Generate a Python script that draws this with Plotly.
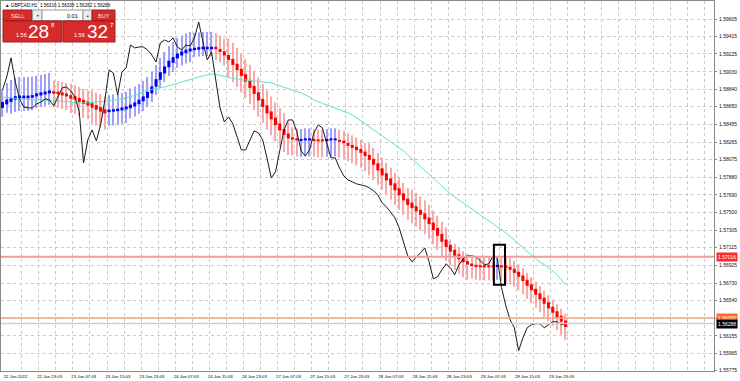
import plotly.graph_objects as go

# ---------------- data (GBPCAD H1) ----------------
x_tick_labels = ["22 Jun 2022", "22 Jun 23:03", "23 Jun 07:03", "23 Jun 15:03", "23 Jun 23:03",
                 "24 Jun 07:03", "24 Jun 15:03", "24 Jun 23:03", "27 Jun 07:03", "27 Jun 15:03",
                 "27 Jun 23:03", "28 Jun 07:03", "28 Jun 15:03", "28 Jun 23:03", "29 Jun 07:03",
                 "29 Jun 15:03", "29 Jun 23:03"]
x_tick_bars = [0, 8, 16, 24, 32, 40, 48, 56, 64, 72, 80, 88, 96, 104, 112, 120, 128]

y_tick_vals = [1.59605, 1.59415, 1.59225, 1.59030, 1.58840, 1.58650, 1.58455, 1.58265, 1.58075,
               1.57880, 1.57690, 1.57500, 1.57305, 1.57115, 1.56925, 1.56730, 1.56540, 1.56345,
               1.56155, 1.55965, 1.55775]

ha_open = [
    1.58637, 1.58675, 1.58702, 1.58726, 1.58740, 1.58742, 1.58742, 1.58748, 1.58762, 1.58773, 1.58784, 1.58795,
    1.58819, 1.58814, 1.58806, 1.58795, 1.58776, 1.58765, 1.58746, 1.58724, 1.58708, 1.58688, 1.58667, 1.58645, 1.58621,
    1.58591, 1.58596, 1.58601, 1.58610, 1.58621, 1.58634, 1.58653, 1.58678, 1.58708, 1.58746, 1.58795, 1.58868, 1.58944,
    1.59012, 1.59080, 1.59129, 1.59176, 1.59208, 1.59233, 1.59252, 1.59265, 1.59271, 1.59276, 1.59276, 1.59276,
    1.59303, 1.59279, 1.59252, 1.59213, 1.59170, 1.59118, 1.59061, 1.59004, 1.58942, 1.58876, 1.58806, 1.58735,
    1.58664, 1.58599, 1.58531, 1.58468, 1.58408, 1.58359,
    1.58316, 1.58305, 1.58278, 1.58283, 1.58283, 1.58299, 1.58294, 1.58294, 1.58278, 1.58283, 1.58283,
    1.58289, 1.58280, 1.58256, 1.58234, 1.58215, 1.58191, 1.58161, 1.58125, 1.58082, 1.58033, 1.57979, 1.57924,
    1.57870, 1.57815, 1.57761, 1.57706, 1.57649, 1.57606, 1.57565, 1.57527, 1.57489, 1.57443, 1.57388, 1.57331,
    1.57266, 1.57203, 1.57146, 1.57092, 1.57043, 1.56999, 1.56969,
    1.56942, 1.56928, 1.56923, 1.56923, 1.56923, 1.56923, 1.56907, 1.56923,
    1.56920, 1.56907, 1.56885, 1.56852, 1.56812, 1.56765, 1.56716, 1.56667, 1.56618, 1.56570, 1.56520, 1.56472,
    1.56423, 1.56374, 1.56322]

ha_close = [
    1.58702, 1.58729, 1.58746, 1.58765, 1.58773, 1.58771, 1.58771, 1.58776, 1.58795, 1.58806, 1.58816, 1.58827,
    1.58792, 1.58787, 1.58773, 1.58762, 1.58738, 1.58727, 1.58702, 1.58680, 1.58664, 1.58640, 1.58618, 1.58596, 1.58577,
    1.58618, 1.58623, 1.58629, 1.58642, 1.58653, 1.58672, 1.58697, 1.58727, 1.58762, 1.58811, 1.58871, 1.58950, 1.59026,
    1.59088, 1.59151, 1.59189, 1.59230, 1.59252, 1.59271, 1.59284, 1.59292, 1.59298, 1.59303, 1.59303, 1.59303,
    1.59276, 1.59246, 1.59208, 1.59159, 1.59105, 1.59048, 1.58985, 1.58923, 1.58855, 1.58789, 1.58718, 1.58648,
    1.58577, 1.58512, 1.58449, 1.58392, 1.58343, 1.58305,
    1.58294, 1.58283, 1.58299, 1.58305, 1.58305, 1.58278, 1.58272, 1.58272, 1.58299, 1.58305, 1.58305,
    1.58267, 1.58253, 1.58223, 1.58202, 1.58177, 1.58147, 1.58112, 1.58071, 1.58017, 1.57957, 1.57902, 1.57848,
    1.57794, 1.57739, 1.57685, 1.57630, 1.57579, 1.57546, 1.57511, 1.57473, 1.57424, 1.57372, 1.57307, 1.57244,
    1.57179, 1.57122, 1.57070, 1.57027, 1.56988, 1.56956, 1.56931,
    1.56915, 1.56907, 1.56901, 1.56901, 1.56901, 1.56901, 1.56928, 1.56901,
    1.56893, 1.56874, 1.56841, 1.56798, 1.56752, 1.56700, 1.56651, 1.56602, 1.56553, 1.56504, 1.56455, 1.56406,
    1.56357, 1.56308, 1.56251]

ha_high = [
    1.58833, 1.58909, 1.58942, 1.58963, 1.58974, 1.58974, 1.58974, 1.58980, 1.58985, 1.58996, 1.59007, 1.59018,
    1.58936, 1.58931, 1.58920, 1.58909, 1.58898, 1.58887, 1.58865, 1.58844, 1.58827, 1.58827, 1.58806, 1.58784, 1.58762,
    1.58778, 1.58784, 1.58789, 1.58800, 1.58811, 1.58849, 1.58871, 1.58898, 1.58931, 1.58974, 1.59029, 1.59105, 1.59181,
    1.59246, 1.59312, 1.59355, 1.59399, 1.59426, 1.59448, 1.59464, 1.59453, 1.59458, 1.59464, 1.59464, 1.59464,
    1.59453, 1.59426, 1.59393, 1.59393, 1.59344, 1.59290, 1.59230, 1.59170, 1.59105, 1.59039, 1.58969, 1.58898,
    1.58827, 1.58762, 1.58697, 1.58637, 1.58582, 1.58495,
    1.58425, 1.58414, 1.58408, 1.58414, 1.58414, 1.58408, 1.58403, 1.58403, 1.58408, 1.58414, 1.58414,
    1.58398, 1.58387, 1.58359, 1.58338, 1.58316, 1.58289, 1.58256, 1.58251, 1.58202, 1.58147, 1.58093, 1.58038,
    1.57984, 1.57930, 1.57875, 1.57821, 1.57766, 1.57750, 1.57712, 1.57674, 1.57630, 1.57581, 1.57521, 1.57462,
    1.57396, 1.57337, 1.57206, 1.57157, 1.57113, 1.57075, 1.57048,
    1.57026, 1.57016, 1.57010, 1.57010, 1.57010, 1.57010, 1.57016, 1.57010,
    1.57016, 1.56999, 1.56972, 1.56934, 1.56890, 1.56842, 1.56792, 1.56744, 1.56695, 1.56646, 1.56597, 1.56548,
    1.56499, 1.56450, 1.56395]

ha_low = [
    1.58539, 1.58583, 1.58572, 1.58593, 1.58604, 1.58604, 1.58604, 1.58610, 1.58637, 1.58648, 1.58659, 1.58670,
    1.58642, 1.58637, 1.58626, 1.58615, 1.58582, 1.58572, 1.58550, 1.58528, 1.58512, 1.58468, 1.58446, 1.58425, 1.58403,
    1.58441, 1.58446, 1.58452, 1.58463, 1.58474, 1.58523, 1.58544, 1.58572, 1.58604, 1.58648, 1.58702, 1.58778, 1.58855,
    1.58920, 1.58985, 1.59029, 1.59072, 1.59099, 1.59121, 1.59137, 1.59192, 1.59197, 1.59203, 1.59203, 1.59203,
    1.59159, 1.59132, 1.59099, 1.58969, 1.58920, 1.58865, 1.58806, 1.58746, 1.58680, 1.58615, 1.58544, 1.58474,
    1.58403, 1.58338, 1.58272, 1.58212, 1.58158, 1.58125,
    1.58120, 1.58109, 1.58104, 1.58109, 1.58109, 1.58104, 1.58098, 1.58098, 1.58104, 1.58109, 1.58109,
    1.58093, 1.58082, 1.58055, 1.58033, 1.58011, 1.57984, 1.57951, 1.57902, 1.57853, 1.57799, 1.57745, 1.57690,
    1.57636, 1.57581, 1.57527, 1.57473, 1.57418, 1.57380, 1.57342, 1.57304, 1.57260, 1.57211, 1.57152, 1.57092,
    1.57026, 1.56967, 1.56923, 1.56874, 1.56831, 1.56792, 1.56765,
    1.56776, 1.56765, 1.56760, 1.56760, 1.56760, 1.56760, 1.56765, 1.56760,
    1.56733, 1.56716, 1.56689, 1.56651, 1.56608, 1.56559, 1.56510, 1.56461, 1.56412, 1.56363, 1.56314, 1.56265,
    1.56216, 1.56167, 1.56113]

close_line = [
    1.58833, 1.58974, 1.59181, 1.58920, 1.58735, 1.58648, 1.58637, 1.58637, 1.58680, 1.58702,
    1.58735, 1.58724, 1.58659, 1.58756, 1.58855, 1.58865, 1.58822, 1.58756, 1.58593, 1.58038,
    1.58289, 1.58398, 1.58278, 1.58452, 1.58724, 1.59050, 1.59018, 1.58778, 1.59029, 1.59072,
    1.59322, 1.59290, 1.59301, 1.59301, 1.59268, 1.59213, 1.59137, 1.59344, 1.59377, 1.59355,
    1.59399, 1.59301, 1.59268, 1.59322, 1.59312, 1.59399, 1.59573, 1.59355, 1.59159, 1.59246,
    1.58920, 1.58637, 1.58484, 1.58539, 1.58463, 1.58310, 1.58180, 1.58180, 1.58278, 1.58387,
    1.58365, 1.58289, 1.58093, 1.57875, 1.57940, 1.58158, 1.58398, 1.58506, 1.58506, 1.58376,
    1.58169, 1.58115, 1.58180, 1.58365, 1.58452, 1.58419, 1.58267, 1.58093, 1.58093, 1.57984,
    1.57897, 1.57853, 1.57832, 1.57810, 1.57799, 1.57788, 1.57766, 1.57734, 1.57690, 1.57603,
    1.57560, 1.57505, 1.57440, 1.57331, 1.57190, 1.57026, 1.56961, 1.57016, 1.57059, 1.57113,
    1.56961, 1.56776, 1.56798, 1.56874, 1.56939, 1.56896, 1.56820, 1.56928, 1.56994, 1.57026,
    1.57026, 1.57016, 1.56972, 1.56928, 1.56939, 1.57026, 1.57005, 1.56678, 1.56482, 1.56330,
    1.56243, 1.55993, 1.56134, 1.56243, 1.56276, 1.56287, 1.56287, 1.56243, 1.56276, 1.56308,
    1.56308, 1.56276, 1.56288]

ma_line = [
    1.58756, 1.58751, 1.58746, 1.58740, 1.58735, 1.58729, 1.58724, 1.58724, 1.58724, 1.58724,
    1.58724, 1.58724, 1.58718, 1.58713, 1.58708, 1.58702, 1.58702, 1.58697, 1.58691, 1.58691,
    1.58691, 1.58697, 1.58702, 1.58702, 1.58708, 1.58713, 1.58718, 1.58724, 1.58735, 1.58746,
    1.58756, 1.58773, 1.58789, 1.58811, 1.58827, 1.58838, 1.58844, 1.58855, 1.58865, 1.58876,
    1.58887, 1.58903, 1.58920, 1.58931, 1.58942, 1.58958, 1.58974, 1.58985, 1.58996, 1.59007,
    1.59001, 1.58990, 1.58974, 1.58963, 1.58958, 1.58952, 1.58947, 1.58942, 1.58942, 1.58936,
    1.58931, 1.58925, 1.58920, 1.58909, 1.58893, 1.58876, 1.58865, 1.58849, 1.58833, 1.58816,
    1.58800, 1.58778, 1.58756, 1.58724, 1.58702, 1.58686, 1.58670, 1.58653, 1.58637, 1.58621,
    1.58604, 1.58582, 1.58561, 1.58528, 1.58495, 1.58463, 1.58430, 1.58398, 1.58365, 1.58332,
    1.58300, 1.58267, 1.58234, 1.58202, 1.58169, 1.58125, 1.58082, 1.58038, 1.57995, 1.57951,
    1.57908, 1.57864, 1.57821, 1.57777, 1.57734, 1.57701, 1.57668, 1.57636, 1.57603, 1.57570,
    1.57538, 1.57505, 1.57473, 1.57440, 1.57407, 1.57375, 1.57342, 1.57309, 1.57277, 1.57239,
    1.57201, 1.57157, 1.57113, 1.57070, 1.57026, 1.56994, 1.56961, 1.56928, 1.56896, 1.56863,
    1.56820, 1.56765, 1.56711]

red_level = 1.57016
orange_level = 1.56350
bid_level = 1.56288
box_bars = (115.2, 117.8)
box_prices = (1.56711, 1.57146)

header_text = "▲ GBPCAD,H1  1.56316 1.56338 1.56262 1.56288"

# ---------------- figure ----------------
W, H = 740, 381
ML, MR, MT, MB = 1, 26, 1, 10
PW, PH = W - ML - MR, H - MT - MB
FONT = "Liberation Sans"

bars = list(range(len(ha_open)))
is_up = [c > o for o, c in zip(ha_open, ha_close)]
body_col = ["#0000ff" if u else "#ff0000" for u in is_up]
wick_col = ["#a0a0f8" if u else "#f8aaaa" for u in is_up]

fig = go.Figure()
fig.add_trace(go.Bar(x=bars, y=[h - l for h, l in zip(ha_high, ha_low)], base=ha_low,
                     width=0.3, marker=dict(color=wick_col, line=dict(width=0)),
                     hoverinfo="skip"))
fig.add_trace(go.Bar(x=bars, y=[abs(c - o) for o, c in zip(ha_open, ha_close)],
                     base=[min(o, c) for o, c in zip(ha_open, ha_close)],
                     width=0.72, marker=dict(color=body_col, line=dict(width=0)),
                     hoverinfo="skip"))
fig.add_trace(go.Scatter(x=bars, y=ma_line, mode="lines",
                         line=dict(color="#5fe3c6", width=1)))
fig.add_trace(go.Scatter(x=bars, y=close_line, mode="lines",
                         line=dict(color="#1a1a1a", width=1)))


def px(xp):
    return (xp - ML) / PW


def py(yp):
    return 1 - (yp - MT) / PH


shapes = []
annotations = []

# horizontal level lines
shapes.append(dict(type="line", xref="paper", x0=0, x1=1, yref="y", y0=red_level, y1=red_level,
                   line=dict(color="#f39a9a", width=2)))
shapes.append(dict(type="line", xref="paper", x0=0, x1=1, yref="y", y0=orange_level, y1=orange_level,
                   line=dict(color="#f2a47c", width=1.5)))
shapes.append(dict(type="line", xref="paper", x0=0, x1=1, yref="y", y0=bid_level, y1=bid_level,
                   line=dict(color="#cfcfcf", width=1.5)))
# rectangle object
shapes.append(dict(type="rect", xref="x", yref="y", x0=box_bars[0], x1=box_bars[1],
                   y0=box_prices[0], y1=box_prices[1], line=dict(color="#000000", width=2)))

# price tags on the right
for val, bg in [(red_level, "#ff2a2a"), (orange_level, "#ff6a2a"), (bid_level, "#000000")]:
    annotations.append(dict(xref="paper", x=1, xanchor="left", xshift=2, yref="y", y=val,
                            text=f"{val:.5f}", showarrow=False, bgcolor=bg, borderpad=1,
                            font=dict(family=FONT, size=5, color="#ffffff")))

# header
annotations.append(dict(xref="paper", yref="paper", x=px(3), y=py(5), xanchor="left", yanchor="middle",
                        text=header_text, showarrow=False,
                        font=dict(family=FONT, size=4.6, color="#000000")))

# one-click trading panel
RED = "#d52b2b"
panel = [
    (3, 32, 10, 20.5, RED, "#a81c1c"),
    (32.5, 42, 10, 20.5, "#ececec", "#9a9a9a"),
    (42, 83, 10, 20.5, "#ffffff", "#9a9a9a"),
    (83, 92, 10, 20.5, "#ececec", "#9a9a9a"),
    (92, 115, 10, 20.5, RED, "#a81c1c"),
    (3, 62, 21, 42, RED, "#a81c1c"),
    (63, 115, 21, 42, RED, "#a81c1c"),
]
for x0, x1, y0, y1, fc, lc in panel:
    shapes.append(dict(type="rect", xref="paper", yref="paper", x0=px(x0), x1=px(x1),
                       y0=py(y1), y1=py(y0), fillcolor=fc, line=dict(color=lc, width=1),
                       layer="above"))

texts = [
    ("SELL", 17.5, 15.5, 5.5, "#ffe4e4"),
    ("▼", 37.2, 15.5, 3.5, "#333333"),
    ("0.01", 72, 15.5, 5.5, "#000000"),
    ("▲", 87.5, 15.5, 3.5, "#333333"),
    ("BUY", 103.5, 15.5, 5.5, "#ffe4e4"),
    ("1.56", 21, 35, 5.5, "#ffffff"),
    ("28", 38.5, 31.5, 19, "#ffffff"),
    ("8", 52.5, 25.5, 6, "#ffffff"),
    ("1.56", 79, 35, 5.5, "#ffffff"),
    ("32", 97.5, 31.5, 19, "#ffffff"),
    ("7", 111.5, 25.5, 6, "#ffffff"),
]
for t, xx, yy, sz, col in texts:
    annotations.append(dict(xref="paper", yref="paper", x=px(xx), y=py(yy), xanchor="center",
                            yanchor="middle", text=t, showarrow=False,
                            font=dict(family=FONT, size=sz, color=col)))

fig.update_layout(
    width=W, height=H,
    margin=dict(l=ML, r=MR, t=MT, b=MB, pad=0),
    paper_bgcolor="#ffffff", plot_bgcolor="#ffffff",
    showlegend=False, barmode="overlay", hovermode=False,
    shapes=shapes, annotations=annotations,
    xaxis=dict(
        range=[-0.35, 166.8], showgrid=False, zeroline=False,
        tickmode="array", tickvals=x_tick_bars, ticktext=x_tick_labels,
        ticks="", ticklabelshift=13, ticklabelstandoff=1,
        tickfont=dict(family=FONT, size=4.3, color="#000000"),
        showline=True, mirror=True, linecolor="#8a8a8a", linewidth=1,
        minor=dict(tickmode="array", tickvals=[4.5 + 4 * k for k in range(41)],
                   showgrid=True, gridcolor="#c9c9c9", griddash="dot", gridwidth=1, ticks=""),
    ),
    yaxis=dict(
        side="right", range=[1.55772, 1.59801], zeroline=False,
        tickmode="array", tickvals=y_tick_vals, ticktext=[f"{v:.5f}" for v in y_tick_vals],
        ticks="outside", ticklen=2, tickcolor="#8a8a8a", ticklabelstandoff=1,
        tickfont=dict(family=FONT, size=5, color="#111111"),
        showgrid=True, gridcolor="#c9c9c9", griddash="dot", gridwidth=1,
        showline=True, mirror=True, linecolor="#8a8a8a", linewidth=1,
    ),
)

fig.write_html("out.html", config={"displayModeBar": False},
               post_script="document.body.style.margin='0';document.body.style.padding='0';")
